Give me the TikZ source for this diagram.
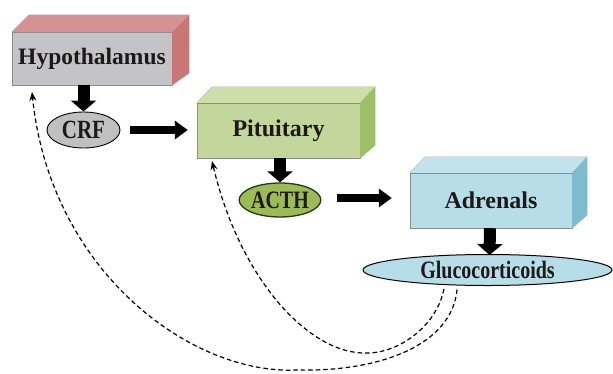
\documentclass[tikz,border=0pt]{standalone}
\usepackage{fontspec}
\usepackage{graphicx}
\setmainfont{Liberation Serif}
\usetikzlibrary{arrows.meta,shapes.geometric,calc}
\definecolor{hypfront}{RGB}{196,196,200}
\definecolor{hyptop}{RGB}{214,146,146}
\definecolor{hypside}{RGB}{200,118,118}
\definecolor{pitfront}{RGB}{195,214,155}
\definecolor{pittop}{RGB}{205,222,168}
\definecolor{pitside}{RGB}{158,190,105}
\definecolor{adrfront}{RGB}{183,222,232}
\definecolor{adrtop}{RGB}{192,227,236}
\definecolor{adrside}{RGB}{125,188,206}
\definecolor{crffill}{RGB}{192,192,192}
\definecolor{acthfill}{RGB}{155,187,89}
\definecolor{acthline}{RGB}{40,55,15}
\definecolor{txt}{RGB}{30,25,25}
\newcommand{\tall}[1]{\scalebox{1}[1.25]{#1}}
\begin{document}
\begin{tikzpicture}[x=1pt,y=1pt,
  front/.style={rectangle, inner sep=0pt, draw=black!45, line width=0.4pt,
    font=\fontsize{24}{24}\selectfont\bfseries, text=txt},
  face/.style={draw=black!30, line width=0.3pt},
  oval/.style={ellipse, inner sep=0pt, draw=black, line width=0.9pt,
    font=\fontsize{21}{21}\selectfont\bfseries, text=txt},
  bigdown/.style={line width=12pt, -{Triangle[width=25pt,length=11pt]}},
  bigright/.style={line width=8pt, -{Triangle[width=18pt,length=13pt]}},
  feedback/.style={line width=1.2pt, dash pattern=on 4.5pt off 3pt,
    -{Stealth[length=9pt,width=7pt]}}
]
\useasboundingbox (0,0) rectangle (613,-373);
% Hypothalamus box
\node[front, fill=hypfront, minimum width=160pt, minimum height=53pt] (hyp) at (92,-58.5) {\fontsize{23.5}{23.5}\selectfont Hypothalamus};
\fill[hyptop] (hyp.north west) -- ++(17,17) -- ($(hyp.north east)+(17,17)$) -- (hyp.north east) -- cycle;
\draw[face] (hyp.north west) -- ++(17,17) -- ($(hyp.north east)+(17,17)$) -- (hyp.north east);
\fill[hypside] (hyp.north east) -- ++(17,17) -- ($(hyp.south east)+(17,12)$) -- (hyp.south east) -- cycle;
\draw[face] ($(hyp.north east)+(17,17)$) -- ($(hyp.south east)+(17,12)$) -- (hyp.south east);
% Pituitary box
\node[front, fill=pitfront, minimum width=163pt, minimum height=55pt] (pit) at (278.5,-130.5) {Pituitary};
\fill[pittop] (pit.north west) -- ++(15,16) -- ($(pit.north east)+(15,16)$) -- (pit.north east) -- cycle;
\draw[face] (pit.north west) -- ++(15,16) -- ($(pit.north east)+(15,16)$) -- (pit.north east);
\fill[pitside] (pit.north east) -- ++(15,16) -- ($(pit.south east)+(15,13)$) -- (pit.south east) -- cycle;
\draw[face] ($(pit.north east)+(15,16)$) -- ($(pit.south east)+(15,13)$) -- (pit.south east);
% Adrenals box
\node[front, fill=adrfront, minimum width=162pt, minimum height=55pt] (adr) at (491,-200.5) {Adrenals};
\fill[adrtop] (adr.north west) -- ++(15,16) -- ($(adr.north east)+(15,16)$) -- (adr.north east) -- cycle;
\draw[face] (adr.north west) -- ++(15,16) -- ($(adr.north east)+(15,16)$) -- (adr.north east);
\fill[adrside] (adr.north east) -- ++(15,16) -- ($(adr.south east)+(15,13)$) -- (adr.south east) -- cycle;
\draw[face] ($(adr.north east)+(15,16)$) -- ($(adr.south east)+(15,13)$) -- (adr.south east);
% ellipses
\node[oval, fill=crffill, minimum width=73pt, minimum height=36pt] (crf) at (83.5,-130) {\tall{CRF}};
\node[oval, fill=acthfill, draw=acthline, line width=1.3pt, minimum width=76pt, minimum height=34pt,
  font=\fontsize{20}{20}\selectfont\bfseries] (acth) at (280,-200) {\tall{ACTH}};
\node[oval, fill=adrfront, minimum width=249pt, minimum height=31pt, line width=1pt,
  font=\fontsize{20}{20}\selectfont\bfseries] (glu) at (487.5,-270) {\tall{Glucocorticoids}};
% solid arrows
\draw[bigdown] (hyp.south -| crf.north) -- (crf.north);
\draw[bigdown] (pit.south -| acth.north) -- (acth.north);
\draw[bigdown] ($(adr.south)+(-1,0)$) -- ($(glu.north)+(2,-1)$);
\draw[bigright, shorten <=10pt, shorten >=9pt] (crf.east) -- (crf.east -| pit.west);
\draw[bigright, shorten <=15pt, shorten >=18pt] ($(acth.east)+(0,2)$) -- ($(acth.east -| adr.west)+(0,2)$);
% feedback loops
\coordinate (pitin) at (212,-161);
\coordinate (hypin) at (32,-92);
\coordinate (lowin) at (367,-353);
\coordinate (lowout) at (297,-370);
\draw[feedback] ($(glu.-161)+(0,-4)$) .. controls (437,-325) and (400,-353) .. (lowin)
  .. controls (310,-355) and (240,-280) .. (pitin);
\draw[feedback] ($(glu.-153)+(0,-4)$) .. controls (452,-345) and (380,-372) .. (lowout)
  .. controls (190,-375) and (50,-270) .. (hypin);
\end{tikzpicture}
\end{document}
